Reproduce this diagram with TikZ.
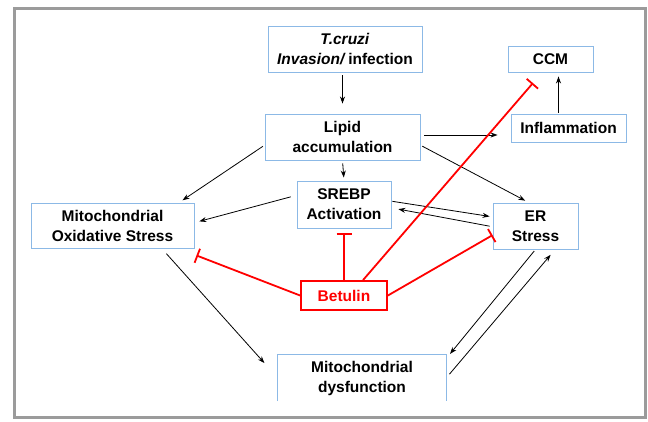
\documentclass[tikz,border=0pt]{standalone}
\usepackage{fontspec}
\setmainfont{Liberation Sans}
\usetikzlibrary{arrows.meta, positioning}
\definecolor{boxblue}{RGB}{140,185,230}
\definecolor{framegray}{RGB}{155,155,155}

\begin{document}
\begin{tikzpicture}[
    x=1pt, y=-1pt,
    box/.style={rectangle, draw=boxblue, line width=0.9pt, align=center, inner sep=1pt, font=\bfseries\fontsize{15.5}{20}\selectfont},
    drug/.style={rectangle, draw=red, line width=1.8pt, text=red, inner sep=1pt, font=\bfseries\fontsize{15.5}{20}\selectfont},
    link/.style={-{Stealth[length=7pt, width=5pt]}, line width=0.8pt},
    inhib/.style={-{Bar[width=15pt]}, draw=red, line width=1.8pt},
]
\useasboundingbox (0,0) rectangle (648,422);

% Frame
\draw[framegray, line width=3pt] (14,9) rectangle (645,417);

% Top of the cascade
\node[box, minimum width=154pt, minimum height=46pt] (tcruzi) at (345,49) {\textit{T.cruzi}\\\textit{Invasion/}\,infection};
\node[box, minimum width=85pt, minimum height=26pt] (ccm) at (550.5,59) {CCM};
\node[box, minimum width=155pt, minimum height=46pt] (lipid) at (342.5,137) {Lipid\\accumulation};
\node[box, minimum width=115pt, minimum height=28pt] (inflam) at (568.5,128) {Inflammation};

% Middle row
\node[box, minimum width=94pt, minimum height=47pt] (srebp) at (344,204.5) {SREBP\\Activation};
\node[box, minimum width=163pt, minimum height=45pt] (mos) at (112.5,225.5) {Mitochondrial\\Oxidative Stress};
\node[box, minimum width=85pt, minimum height=46pt] (er) at (535.5,226) {ER\\Stress};

% Drug
\node[drug, minimum width=86pt, minimum height=29pt] (betulin) at (344,295.5) {Betulin};

% Bottom (box open at the bottom)
\node[align=center, inner sep=1pt, minimum width=168pt, minimum height=46pt, font=\bfseries\fontsize{15.5}{20}\selectfont] (mitodys) at (362,378) {Mitochondrial\\dysfunction};
\draw[boxblue, line width=0.9pt] (mitodys.south west) |- (mitodys.north east) -- (mitodys.south east);

% === Black arrows ===
\draw[link, shorten <=3pt, shorten >=10pt] (tcruzi.south -| lipid) -- (lipid.north);
\draw[link, shorten <=4pt, shorten >=13pt] ([yshift=2pt]lipid.east) -- ([yshift=2pt]lipid.east -| inflam.west);
\draw[link, shorten <=1pt, shorten >=4pt] ([xshift=-10pt]inflam.north) -- ([xshift=-10pt]inflam.north |- ccm.south);
\draw[link, shorten <=3pt, shorten >=3pt] (lipid.south) -- (srebp.north);
\draw[link, shorten <=2pt, shorten >=4pt] (lipid.186) -- (mos.19);
\draw[link, shorten <=2pt, shorten >=4pt] (lipid.-6) -- (er.106);
\draw[link, shorten <=6pt, shorten >=5pt] (srebp.169) -- (mos.2);
\draw[link, shorten <=1pt, shorten >=3pt] (srebp.4) -- (er.168);
\draw[link, shorten <=3pt, shorten >=7pt] (er.181) -- (srebp.-4);
\draw[link, shorten <=7pt, shorten >=20pt] (mos.-25) -- (mitodys.west);
\draw[link, shorten <=2pt, shorten >=6pt] (er.south) -- (mitodys.13);
\draw[link, shorten <=5pt, shorten >=7pt] (mitodys.east) -- (er.-50);

% === Betulin inhibition (red) ===
\draw[inhib, shorten >=5pt] (betulin.north) -- (srebp.south);
\draw[inhib] (betulin.west) -- ([shift={(2pt,-7pt)}]mos.south east);
\draw[inhib] (betulin.east) -- (er.192);
\draw[inhib, shorten >=14pt] (betulin.39) -- (ccm.238);

\end{tikzpicture}
\end{document}
